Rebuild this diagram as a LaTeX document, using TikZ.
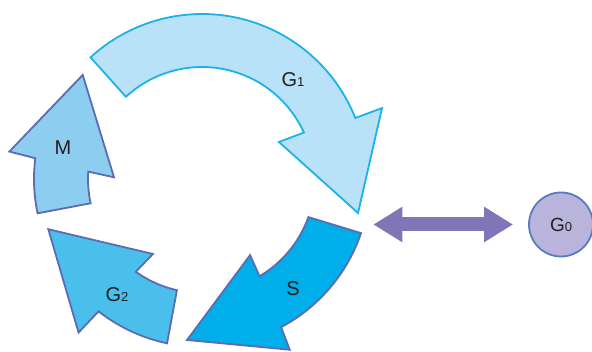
\documentclass[tikz,border=0pt]{standalone}
\usepackage{fontspec}
\setmainfont{Liberation Sans}
\usetikzlibrary{arrows.meta}
\definecolor{gonefill}{HTML}{B9E1F7}
\definecolor{gonedraw}{HTML}{1BB3E7}
\definecolor{mfill}{HTML}{8DCDF0}
\definecolor{gtwofill}{HTML}{4BBFEB}
\definecolor{sfill}{HTML}{00AEE9}
\definecolor{arrowdraw}{HTML}{5B6CB3}
\definecolor{dblcol}{HTML}{7F76B7}
\definecolor{gzerofill}{HTML}{B8B4DC}
\definecolor{gzerodraw}{HTML}{5B79C2}
\definecolor{txt}{HTML}{231F20}
\newcommand{\lbl}[2]{{\fontsize{20}{20}\selectfont #1}{\fontsize{13}{13}\selectfont #2}}
\begin{document}
\begin{tikzpicture}[x=1pt,y=1pt,
  ringarrow/.style={draw=arrowdraw,line width=1.8pt,line join=miter},
  labeltext/.style={text=txt,inner sep=0pt},
  dbl/.style={draw=dblcol,line width=14pt,{Triangle[length=29pt,width=33.4pt]}-{Triangle[length=29pt,width=33.4pt]}},
  gzero/.style={circle,fill=gzerofill,draw=gzerodraw,line width=1.8pt,minimum size=64pt,inner sep=0pt,text=txt}]
\useasboundingbox (0,0) rectangle (592,352);
\begin{scope}[shift={(202,173)}]
  % G1
  \draw[ringarrow,draw=gonedraw,fill=gonefill]
    (132.5:165) arc[start angle=132.5,end angle=21.7,radius=165pt]
    -- (21.5:193.5) -- (-12.3:159.7) -- (25.7:85.4) -- (24.5:112)
    arc[start angle=24.5,end angle=132.8,radius=112pt] -- cycle;
  % S
  \draw[ringarrow,fill=sfill]
    (-18.8:168) -- (-19.7:113) arc[start angle=-19.7,end angle=-59.4,radius=113pt]
    -- (-57.7:90) -- (-95.3:161.7) -- (-62.8:192) -- (-61.9:168)
    arc[start angle=-61.9,end angle=-18.8,radius=168pt] -- cycle;
  % G2
  \draw[ringarrow,fill=gtwofill]
    (-102.7:114) -- (-102:168) arc[start angle=-102,end angle=-128,radius=168pt]
    -- (-128.8:197) -- (-161.9:161.7) -- (-123.2:89.6) -- (-125.5:114)
    arc[start angle=-125.5,end angle=-102.7,radius=114pt] -- cycle;
  % M
  \draw[ringarrow,fill=mfill]
    (192.3:114) -- (191.8:168) arc[start angle=191.8,end angle=172.9,radius=168pt]
    -- (171.9:194.6) -- (138.9:158.3) -- (178.9:88) -- (176.3:114)
    arc[start angle=176.3,end angle=192.3,radius=114pt] -- cycle;
\end{scope}
\node[labeltext] (g1) at (293,272) {\lbl{G}{1}};
\node[labeltext] (m) at (63,204) {\lbl{M}{}};
\node[labeltext] (g2) at (117,57) {\lbl{G}{2}};
\node[labeltext] (s) at (293,63) {\lbl{S}{}};
\node[gzero] (g0) at (561,127.5) {{\fontsize{19}{19}\selectfont G}{\fontsize{13}{13}\selectfont 0}};
\coordinate (left) at (373.3,127.5);
\draw[dbl,shorten >=15pt] (left) -- (g0.west);
\end{tikzpicture}
\end{document}
